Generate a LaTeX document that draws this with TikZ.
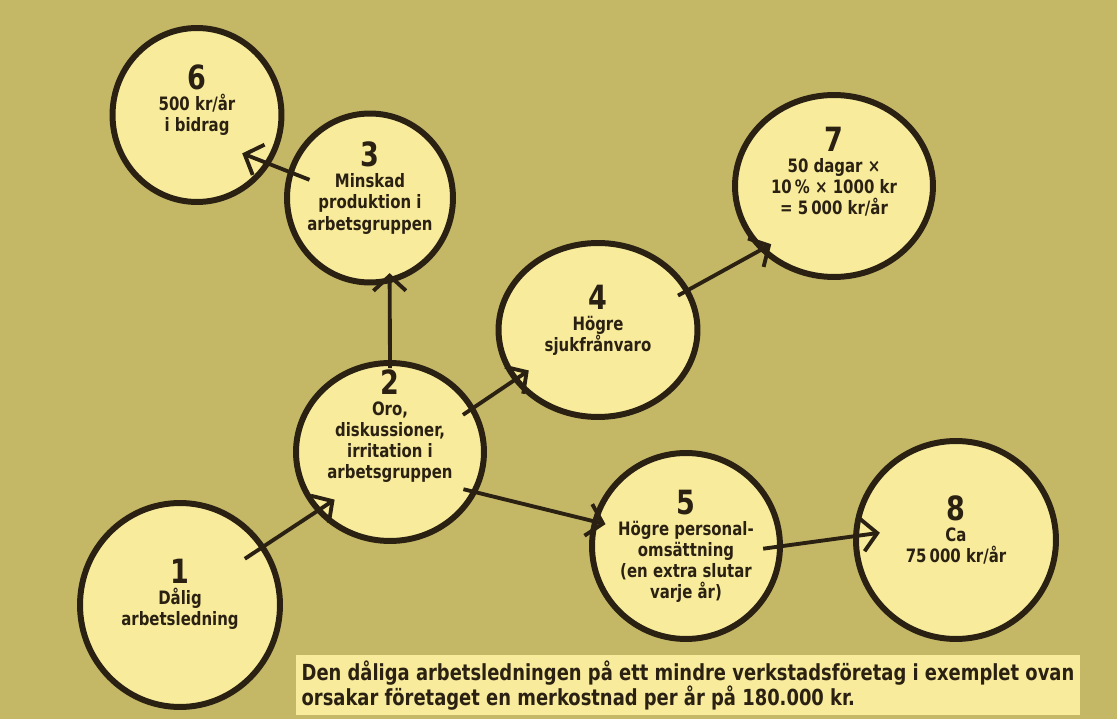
\documentclass[tikz,border=0pt]{standalone}
\usepackage{fontspec}
\setmainfont{DejaVu Sans Condensed}[FakeStretch=0.9]
\usetikzlibrary{arrows.meta,shapes.geometric}

\definecolor{paper}{HTML}{C4B867}
\definecolor{bubblefill}{HTML}{F8EC9C}
\definecolor{ink}{HTML}{2B2112}

\tikzset{
  bubble/.style={ellipse, draw=ink, fill=bubblefill, line width=3.4pt, inner sep=0pt},
  bubbletext/.style={align=center, text=ink, font=\bfseries\fontsize{10.5}{12}\selectfont},
  capbox/.style={fill=bubblefill, text=ink, align=left, inner xsep=3pt, inner ysep=3pt,
    font=\bfseries\fontsize{12.6}{14.2}\selectfont},
  arr/.style={draw=ink, line width=2.2pt, -{Straight Barb[length=3mm,width=6.5mm]}}
}
\newcommand{\bubnum}[1]{{\fontsize{19}{18}\selectfont #1}}

\begin{document}
\begin{tikzpicture}[x=0.02cm,y=-0.02cm]
% Background
\fill[paper] (0,0) rectangle (1117,719);
\useasboundingbox (0,0) rectangle (1117,719);
% Bubbles
\node[bubble, minimum width=3.38cm, minimum height=3.48cm] (c6) at (197,115) {};
\node[bubble, minimum width=3.32cm, minimum height=3.38cm] (c3) at (370,198) {};
\node[bubble, minimum width=3.98cm, minimum height=3.48cm] (c4) at (598,330) {};
\node[bubble, minimum width=3.96cm, minimum height=3.64cm] (c7) at (834,186) {};
\node[bubble, minimum width=3.76cm, minimum height=3.56cm] (c2) at (390,452) {};
\node[bubble, minimum width=3.76cm, minimum height=3.72cm] (c5) at (686,546) {};
\node[bubble, minimum width=4.00cm, minimum height=3.96cm] (c8) at (956,540) {};
\node[bubble, minimum width=4.00cm, minimum height=4.08cm] (c1) at (180,605) {};
% Texts
\node[bubbletext, yshift=0.3cm] (t6) at (c6) {\bubnum{6}\\500 kr/år\\i bidrag};
\node[bubbletext, yshift=0.2cm] (t3) at (c3) {\bubnum{3}\\Minskad\\produktion i\\arbetsgruppen};
\node[bubbletext, yshift=0.2cm] (t4) at (c4) {\bubnum{4}\\Högre\\sjukfrånvaro};
\node[bubbletext, yshift=0.28cm] (t7) at (c7) {\bubnum{7}\\50 dagar ×\\10\,\% × 1000 kr\\= 5\,000 kr/år};
\node[bubbletext, yshift=0.52cm] (t2) at (c2) {\bubnum{2}\\Oro,\\diskussioner,\\irritation i\\arbetsgruppen};
\node[bubbletext] (t5) at (c5) {\bubnum{5}\\Högre personal-\\omsättning\\(en extra slutar\\varje år)};
\node[bubbletext, yshift=0.2cm] (t8) at (c8) {\bubnum{8}\\Ca\\75\,000 kr/år};
\node[bubbletext, yshift=0.22cm] (t1) at (c1) {\bubnum{1}\\Dålig\\arbetsledning};
% Arrows
\draw[arr, shorten <=-0.48cm, shorten >=-0.44cm] (c1.35) -- (c2.219);
\draw[arr, shorten <=-0.16cm, shorten >=-0.2cm] (c2.90) -- (c3.-77);
\draw[arr, shorten <=-0.46cm, shorten >=-0.6cm] (c3.162) -- (c6.-34);
\draw[arr, shorten <=-0.28cm, shorten >=-0.37cm] (c2.28) -- (c4.211);
\draw[arr, shorten <=-0.26cm, shorten >=-0.26cm] (c4.24) -- (c7.221);
\draw[arr, shorten <=-0.28cm, shorten >=-0.27cm] (c2.-25) -- (c5.165);
\draw[arr, shorten <=-0.4cm, shorten >=-0.54cm] (c5.0) -- (c8.178);
% Caption
\node[capbox, anchor=north west] (cap) at (296,655)
  {Den dåliga arbetsledningen på ett mindre verkstadsföretag i exemplet ovan\\
   orsakar företaget en merkostnad per år på 180.000 kr.};
\end{tikzpicture}
\end{document}
